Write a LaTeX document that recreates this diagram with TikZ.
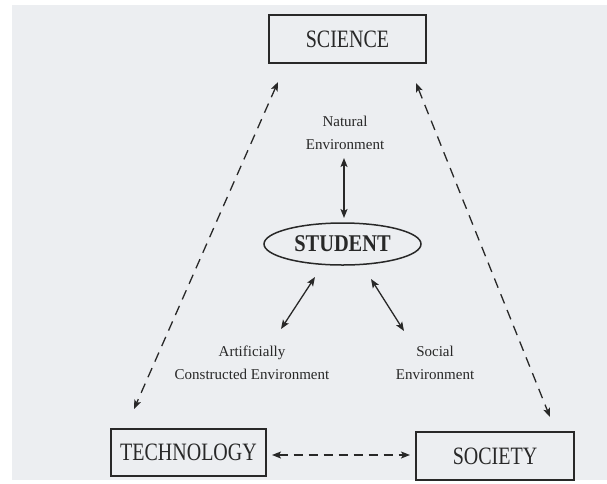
\documentclass[tikz,border=0pt]{standalone}
\usepackage{fontspec}
\setmainfont{Liberation Serif}
\newfontfamily\bigfont[FakeStretch=0.8]{Liberation Serif}
\newfontfamily\stufont[FakeStretch=0.85]{Liberation Serif}
\usetikzlibrary{shapes.geometric,arrows.meta}
\definecolor{paper}{RGB}{236,238,241}
\definecolor{ink}{RGB}{40,40,40}
\tikzset{
  bigbox/.style={draw=ink, line width=1.8pt, rectangle, inner sep=0pt,
    font=\bigfont\fontsize{25}{28}\selectfont, text=ink},
  stubox/.style={draw=ink, line width=1.5pt, ellipse, inner sep=0pt,
    minimum width=157pt, minimum height=42pt,
    font=\stufont\bfseries\fontsize{24}{27}\selectfont, text=ink},
  envtext/.style={align=center, inner sep=0pt, text=ink,
    font=\fontsize{15}{22.5}\selectfont},
  solidarrow/.style={draw=ink, line width=1.3pt, {Stealth[length=9pt,width=7pt,inset=2pt]}-{Stealth[length=9pt,width=7pt,inset=2pt]}},
  diagarrow/.style={draw=ink, line width=1.3pt, dash pattern=on 10pt off 7pt,
    {Stealth[length=9pt,width=7pt,inset=2pt]}-{Stealth[length=9pt,width=7pt,inset=2pt]}},
  horarrow/.style={draw=ink, line width=1.3pt, dash pattern=on 9pt off 6pt,
    {Stealth[length=9pt,width=7pt,inset=2pt]}-{Stealth[length=9pt,width=7pt,inset=2pt]}},
}
\begin{document}
\begin{tikzpicture}[x=1pt,y=-1pt]
\useasboundingbox (0,0) rectangle (607,483);
\fill[white] (0,0) rectangle (607,483);
\fill[paper] (12,5) rectangle (607,480);

\node[bigbox, minimum width=157pt, minimum height=48pt] (sci) at (347.5,39) {SCIENCE};
\node[bigbox, minimum width=155pt, minimum height=47pt] (tech) at (188.5,452.5) {TECHNOLOGY};
\node[bigbox, minimum width=158pt, minimum height=48pt] (soc) at (495,456) {SOCIETY};
\node[stubox] (stu) at (342.5,244) {STUDENT};

\node[envtext] (nat) at (345,133) {Natural\\Environment};
\node[envtext] (art) at (252,363) {Artificially\\Constructed Environment};
\node[envtext] (senv) at (435,363) {Social\\Environment};

\coordinate (n1) at (344,158);
\coordinate (n2) at (344,218);
\coordinate (a1) at (315,277);
\coordinate (a2) at (281,329);
\coordinate (s1) at (371,279);
\coordinate (s2) at (404,331);
\coordinate (l1) at (278,82);
\coordinate (l2) at (134,409);
\coordinate (r1) at (416,83);
\coordinate (r2) at (550,417);
\coordinate (h1) at (272,455);
\coordinate (h2) at (410,455);

\draw[solidarrow] (n1) -- (n2);
\draw[solidarrow] (a1) -- (a2);
\draw[solidarrow] (s1) -- (s2);
\draw[diagarrow] (l1) -- (l2);
\draw[diagarrow] (r1) -- (r2);
\draw[horarrow] (h1) -- (h2);
\end{tikzpicture}
\end{document}
